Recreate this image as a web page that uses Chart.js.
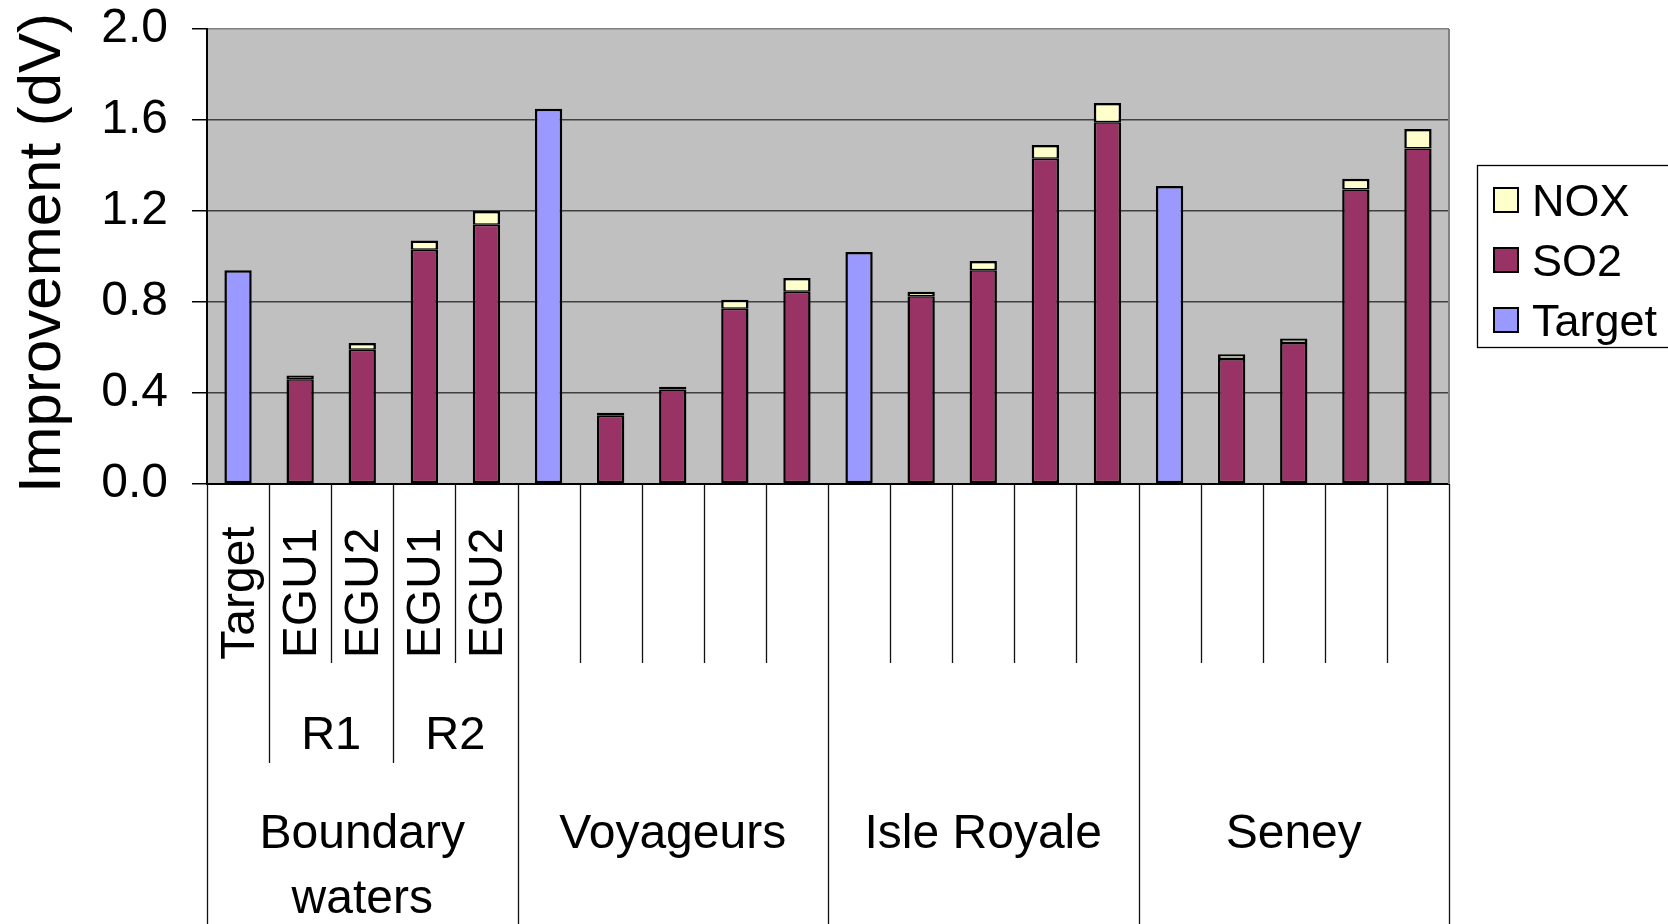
<!DOCTYPE html>
<html>
<head>
<meta charset="utf-8">
<script src="https://cdn.jsdelivr.net/npm/chart.js@4.4.1/dist/chart.umd.min.js"></script>
<style>
    html, body { margin: 0; padding: 0; background: #fff; }
</style>
</head>
<body>
<canvas id="grafico" width="1668" height="924"></canvas>
<script>
// --- DATOS ---
const sitios = ['Boundary waters', 'Voyageurs', 'Isle Royale', 'Seney'];
const casos = ['Target', 'EGU1', 'EGU2', 'EGU1', 'EGU2']; // solo se rotulan bajo el primer sitio
const rondas = ['', 'R1', 'R1', 'R2', 'R2'];
const yTicks = [0, 0.4, 0.8, 1.2, 1.6, 2.0];

const targetVals = [0.94, null, null, null, null, 1.65, null, null, null, null, 1.02, null, null, null, null, 1.31, null, null, null, null];
const so2Vals = [null, 0.46, 0.59, 1.03, 1.14, null, 0.30, 0.415, 0.77, 0.845, null, 0.825, 0.94, 1.43, 1.59, null, 0.55, 0.62, 1.295, 1.475];
const noxVals = [null, 0.017, 0.03, 0.04, 0.06, null, 0.013, 0.012, 0.04, 0.06, null, 0.02, 0.04, 0.06, 0.085, null, 0.02, 0.02, 0.047, 0.085];

const leyenda = [
    { texto: 'NOX', color: '#ffffcc' },
    { texto: 'SO2', color: '#993366' },
    { texto: 'Target', color: '#9999ff' }
];

// Etiquetas de 3 niveles: [caso, ronda, sitio]
const etiquetas = sitios.flatMap((s, i) => casos.map((c, j) => i === 0 ? [c, rondas[j], s] : ['', '', s]));

const FUENTE = '"Liberation Sans", Arial, sans-serif';

// --- PLUGIN: fondo gris + borde derecho ---
const fondoPlot = {
    id: 'fondoPlot',
    beforeDraw(chart) {
        const { ctx, chartArea: a } = chart;
        ctx.save();
        ctx.fillStyle = '#c0c0c0';
        ctx.fillRect(a.left, a.top, a.right - a.left, a.bottom - a.top);
        ctx.restore();
    },
    afterDatasetsDraw(chart) {
        const { ctx, chartArea: a } = chart;
        ctx.save();
        ctx.strokeStyle = '#808080';
        ctx.lineWidth = 2;
        ctx.beginPath();
        ctx.moveTo(a.right, a.top);
        ctx.lineTo(a.right, a.bottom);
        ctx.stroke();
        ctx.restore();
    }
};

// --- PLUGIN: eje X multinivel, titulo Y y leyenda ---
const ejeMultinivel = {
    id: 'ejeMultinivel',
    afterDraw(chart) {
        const { ctx, chartArea: a } = chart;
        const n = etiquetas.length;
        const paso = (a.right - a.left) / n;
        const alto = chart.height;
        const fondo1 = a.bottom + 179;
        const fondo2 = a.bottom + 279;

        ctx.save();
        ctx.fillStyle = '#000';
        ctx.strokeStyle = '#111';
        ctx.lineWidth = 1.3;

        // Divisores
        for (let k = 0; k <= n; k++) {
            const x = Math.round(a.left + k * paso) + 0.5;
            const izq = etiquetas[k - 1];
            const der = etiquetas[k];
            let y2 = fondo1;
            if (!izq || !der || izq[2] !== der[2]) y2 = alto;
            else if (izq[1] !== der[1]) y2 = fondo2;
            ctx.beginPath();
            ctx.moveTo(x, a.bottom);
            ctx.lineTo(x, y2);
            ctx.stroke();
        }

        // Nivel 1 (rotado)
        ctx.font = `48px ${FUENTE}`;
        ctx.textAlign = 'center';
        ctx.textBaseline = 'alphabetic';
        etiquetas.forEach((e, i) => {
            if (!e[0]) return;
            const cx = a.left + (i + 0.5) * paso - 1;
            ctx.save();
            ctx.translate(cx + 17, a.bottom + 109);
            ctx.rotate(-Math.PI / 2);
            ctx.fillText(e[0], 0, 0);
            ctx.restore();
        });

        // Nivel 2 y 3 (tramos)
        const tramos = (nivel) => {
            const res = [];
            etiquetas.forEach((e, i) => {
                const ult = res[res.length - 1];
                if (ult && ult.texto === e[nivel] && etiquetas[i - 1][2] === e[2]) ult.fin = i;
                else res.push({ texto: e[nivel], ini: i, fin: i });
            });
            return res.filter(t => t.texto);
        };

        ctx.font = `47px ${FUENTE}`;
        tramos(1).forEach(t => {
            const cx = a.left + (t.ini + t.fin + 1) / 2 * paso;
            ctx.fillText(t.texto, cx, a.bottom + 265);
        });

        ctx.font = `48px ${FUENTE}`;
        tramos(2).forEach(t => {
            const cx = a.left + (t.ini + t.fin + 1) / 2 * paso;
            const ancho = (t.fin - t.ini + 1) * paso;
            const lineas = ctx.measureText(t.texto).width > ancho - 20 ? t.texto.split(' ') : [t.texto];
            lineas.forEach((l, j) => ctx.fillText(l, cx, a.bottom + 364 + j * 65));
        });

        // Titulo eje Y
        ctx.font = `60px ${FUENTE}`;
        ctx.save();
        ctx.translate(60, 253);
        ctx.rotate(-Math.PI / 2);
        ctx.fillText('Improvement (dV)', 0, 0);
        ctx.restore();

        // Leyenda
        const lx = 1477, ly = 165;
        ctx.fillStyle = '#fff';
        ctx.fillRect(lx, ly, 220, 182);
        ctx.strokeStyle = '#000';
        ctx.lineWidth = 1.3;
        ctx.strokeRect(lx + 0.5, ly + 0.5, 220, 182);
        ctx.font = `45px ${FUENTE}`;
        ctx.textAlign = 'left';
        leyenda.forEach((it, i) => {
            const cy = 200 + i * 60;
            ctx.fillStyle = it.color;
            ctx.fillRect(1494, cy - 12, 24, 24);
            ctx.lineWidth = 2;
            ctx.strokeRect(1494, cy - 12, 24, 24);
            ctx.fillStyle = '#000';
            ctx.fillText(it.texto, 1532, cy + 16);
        });

        ctx.restore();
    }
};

// --- GRAFICO ---
const estiloBarra = {
    borderColor: '#000',
    borderSkipped: false,
    barPercentage: 0.44,
    categoryPercentage: 1
};

new Chart(document.getElementById('grafico'), {
    type: 'bar',
    data: {
        labels: etiquetas,
        datasets: [
            { label: 'Target', data: targetVals, backgroundColor: '#9999ff', borderWidth: 2.5, ...estiloBarra },
            { label: 'SO2', data: so2Vals, backgroundColor: '#993366', borderWidth: { top: 1.5, left: 2.5, right: 2.5, bottom: 2.5 }, ...estiloBarra },
            { label: 'NOX', data: noxVals, backgroundColor: '#ffffcc', borderWidth: { top: 2.5, left: 2.5, right: 2.5, bottom: 1.5 }, ...estiloBarra }
        ]
    },
    options: {
        responsive: false,
        animation: false,
        layout: { padding: { top: 29, right: 219, left: 0, bottom: 0 } },
        plugins: {
            legend: { display: false },
            tooltip: { enabled: false }
        },
        scales: {
            x: {
                stacked: true,
                ticks: { display: false },
                grid: { display: false },
                border: { display: true, color: '#000', width: 2 },
                afterFit: s => { s.height = 440; }
            },
            y: {
                stacked: true,
                min: 0,
                max: 2,
                afterBuildTicks: s => { s.ticks = yTicks.map(v => ({ value: v })); },
                ticks: {
                    color: '#000',
                    padding: 24,
                    font: { family: FUENTE, size: 48 },
                    callback: v => v.toFixed(1)
                },
                grid: {
                    tickLength: 15,
                    lineWidth: 1.5,
                    tickColor: '#000',
                    color: c => c.tick.value === 0 ? '#000' : (c.tick.value >= 2 ? '#808080' : '#404040')
                },
                border: { display: true, color: '#000', width: 2 },
                afterFit: s => {
                    s.width = 207;
                    s.paddingTop = 0;
                    s.paddingBottom = 0;
                }
            }
        }
    },
    plugins: [fondoPlot, ejeMultinivel]
});
</script>
</body>
</html>
